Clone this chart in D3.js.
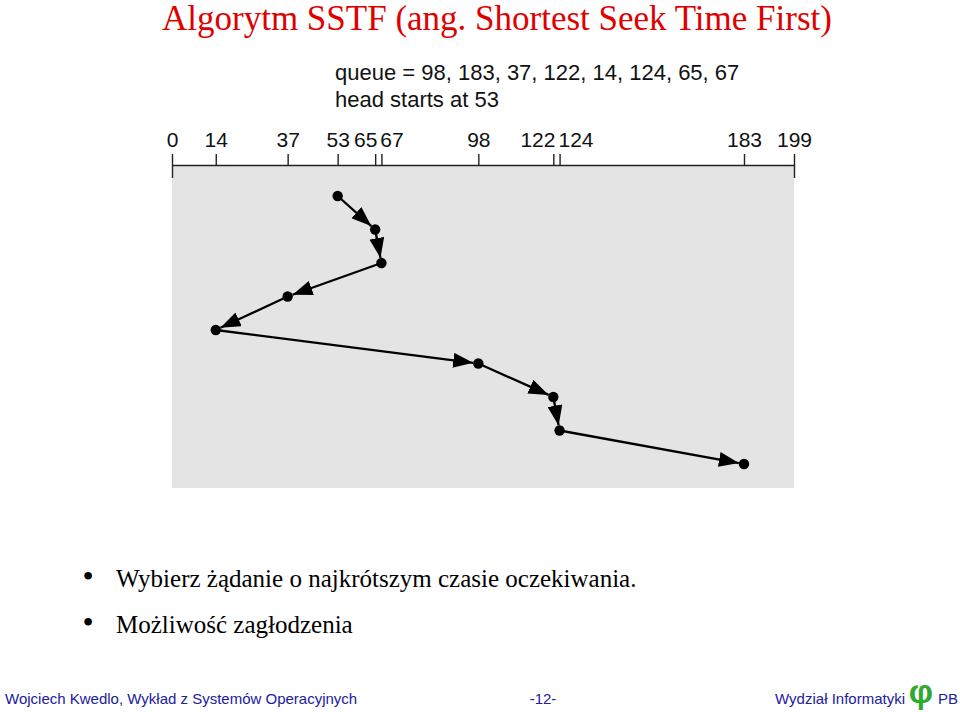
<!DOCTYPE html>
<html><head><meta charset="utf-8">
<script src="https://cdn.jsdelivr.net/npm/d3@7"></script>
<style>
html,body{margin:0;padding:0;background:#fff;}
svg{display:block;}
</style></head>
<body>
<svg id="chart" width="960" height="712"></svg>
<script>
// ---- data ----
const titleText = "Algorytm SSTF (ang. Shortest Seek Time First)";
const queue = [98, 183, 37, 122, 14, 124, 65, 67];
const headStart = 53;
const cylinderMin = 0;
const cylinderMax = 199;
const serviceOrder = [53, 65, 67, 37, 14, 98, 122, 124, 183];
const tickValues = [0, 14, 37, 53, 65, 67, 98, 122, 124, 183, 199];
const bullets = ["Wybierz żądanie o najkrótszym czasie oczekiwania.", "Możliwość zagłodzenia"];
const footerLeft = "Wojciech Kwedlo, Wykład z Systemów Operacyjnych";
const footerCenter = "-12-";
const footerRight = "Wydział Informatyki";

// ---- layout ----
const svg = d3.select("#chart");
const axisY = 165, plotBottom = 488;
const x = d3.scaleLinear().domain([cylinderMin, cylinderMax]).range([172, 794]);
const y = d3.scaleLinear().domain([0, serviceOrder.length - 1]).range([196, 464]);

// title
svg.append("text").attr("x", 162).attr("y", 30)
  .attr("font-family", "'Liberation Serif','Times New Roman',serif")
  .attr("font-size", 35).attr("fill", "#e00000").text(titleText);

// queue / head text
const sans = "'Liberation Sans',Arial,Helvetica,sans-serif";
svg.append("text").attr("x", 335).attr("y", 80).attr("font-family", sans)
  .attr("font-size", 22).attr("fill", "#111").text("queue = " + queue.join(", "));
svg.append("text").attr("x", 335).attr("y", 107).attr("font-family", sans)
  .attr("font-size", 22).attr("fill", "#111").text("head starts at " + headStart);

// gray plot area
svg.append("rect").attr("x", x(cylinderMin)).attr("y", axisY)
  .attr("width", x(cylinderMax) - x(cylinderMin)).attr("height", plotBottom - axisY)
  .attr("fill", "#e4e4e4");

// axis
const axisG = svg.append("g").attr("transform", `translate(0,${axisY})`)
  .call(d3.axisTop(x).tickValues(tickValues).tickSize(11).tickSizeOuter(0).tickFormat(d3.format("d")));
axisG.select(".domain").attr("stroke", "#222").attr("stroke-width", 1.6);
axisG.selectAll(".tick line").attr("stroke", "#222").attr("stroke-width", 1.4);
axisG.selectAll(".tick text").attr("font-family", sans).attr("font-size", 21)
  .attr("fill", "#111").attr("y", -18);
// end ticks crossing the axis
axisG.selectAll(".tick").filter(d => d === cylinderMin || d === cylinderMax)
  .select("line").attr("y2", -11).attr("y1", 13);

// de-overlap tick labels
const texts = axisG.selectAll(".tick text").nodes();
const items = texts.map((t, i) => ({node: t, base: x(tickValues[i]), pos: x(tickValues[i]), w: t.getComputedTextLength()}));
const gap = 3;
for (let iter = 0; iter < 300; iter++) {
  let moved = false;
  for (let i = 0; i < items.length - 1; i++) {
    const a = items[i], b = items[i + 1];
    const need = (a.w + b.w) / 2 + gap;
    const have = b.pos - a.pos;
    if (have < need - 0.01) {
      const d = (need - have) / 2;
      a.pos -= d; b.pos += d; moved = true;
    }
  }
  if (!moved) break;
}
items.forEach(it => d3.select(it.node).attr("x", it.pos - it.base));

// path of the head
const pts = serviceOrder.map((c, i) => ({c, px: x(c), py: y(i)}));
const defs = svg.append("defs");
defs.append("marker").attr("id", "arr").attr("viewBox", "0 0 20 15")
  .attr("refX", 20).attr("refY", 7.5).attr("markerWidth", 20).attr("markerHeight", 15)
  .attr("markerUnits", "userSpaceOnUse").attr("orient", "auto")
  .append("path").attr("d", "M0,0 L20,7.5 L0,15 Z").attr("fill", "#000");

const dotR = 5.2;
const segs = d3.pairs(pts);
svg.append("g").selectAll("path").data(segs).join("path")
  .attr("d", ([a, b]) => {
    const dx = b.px - a.px, dy = b.py - a.py, L = Math.hypot(dx, dy);
    const ex = b.px - dx / L * dotR, ey = b.py - dy / L * dotR;
    return d3.line()([[a.px, a.py], [ex, ey]]);
  })
  .attr("stroke", "#000").attr("stroke-width", 2.3).attr("fill", "none")
  .attr("marker-end", "url(#arr)");

svg.append("g").selectAll("circle").data(pts).join("circle")
  .attr("cx", d => d.px).attr("cy", d => d.py).attr("r", dotR).attr("fill", "#000");

// bullets
const serif = "'Liberation Serif','Times New Roman',serif";
bullets.forEach((b, i) => {
  const by = 587 + i * 46;
  svg.append("text").attr("x", 88).attr("y", by).attr("text-anchor", "middle").attr("font-family", serif)
    .attr("font-size", 32).attr("fill", "#000").text("•");
  svg.append("text").attr("x", 116).attr("y", by).attr("font-family", serif)
    .attr("font-size", 25).attr("fill", "#000").text(b);
});

// footer
const footColor = "#20209c";
svg.append("text").attr("x", 5).attr("y", 704).attr("font-family", sans)
  .attr("font-size", 15).attr("fill", footColor).text(footerLeft);
svg.append("text").attr("x", 543).attr("y", 704).attr("text-anchor", "middle").attr("font-family", sans)
  .attr("font-size", 15).attr("fill", footColor).text(footerCenter);
svg.append("text").attr("x", 905).attr("y", 704).attr("text-anchor", "end").attr("font-family", sans)
  .attr("font-size", 15).attr("fill", footColor).text(footerRight);
svg.append("text").attr("x", 921).attr("y", 703).attr("text-anchor", "middle").attr("font-family", sans)
  .attr("font-size", 34).attr("font-weight", "bold").attr("fill", "#2eaa2e").text("φ");
svg.append("text").attr("x", 938).attr("y", 704).attr("font-family", sans)
  .attr("font-size", 15).attr("fill", footColor).text("PB");
</script>
</body></html>
